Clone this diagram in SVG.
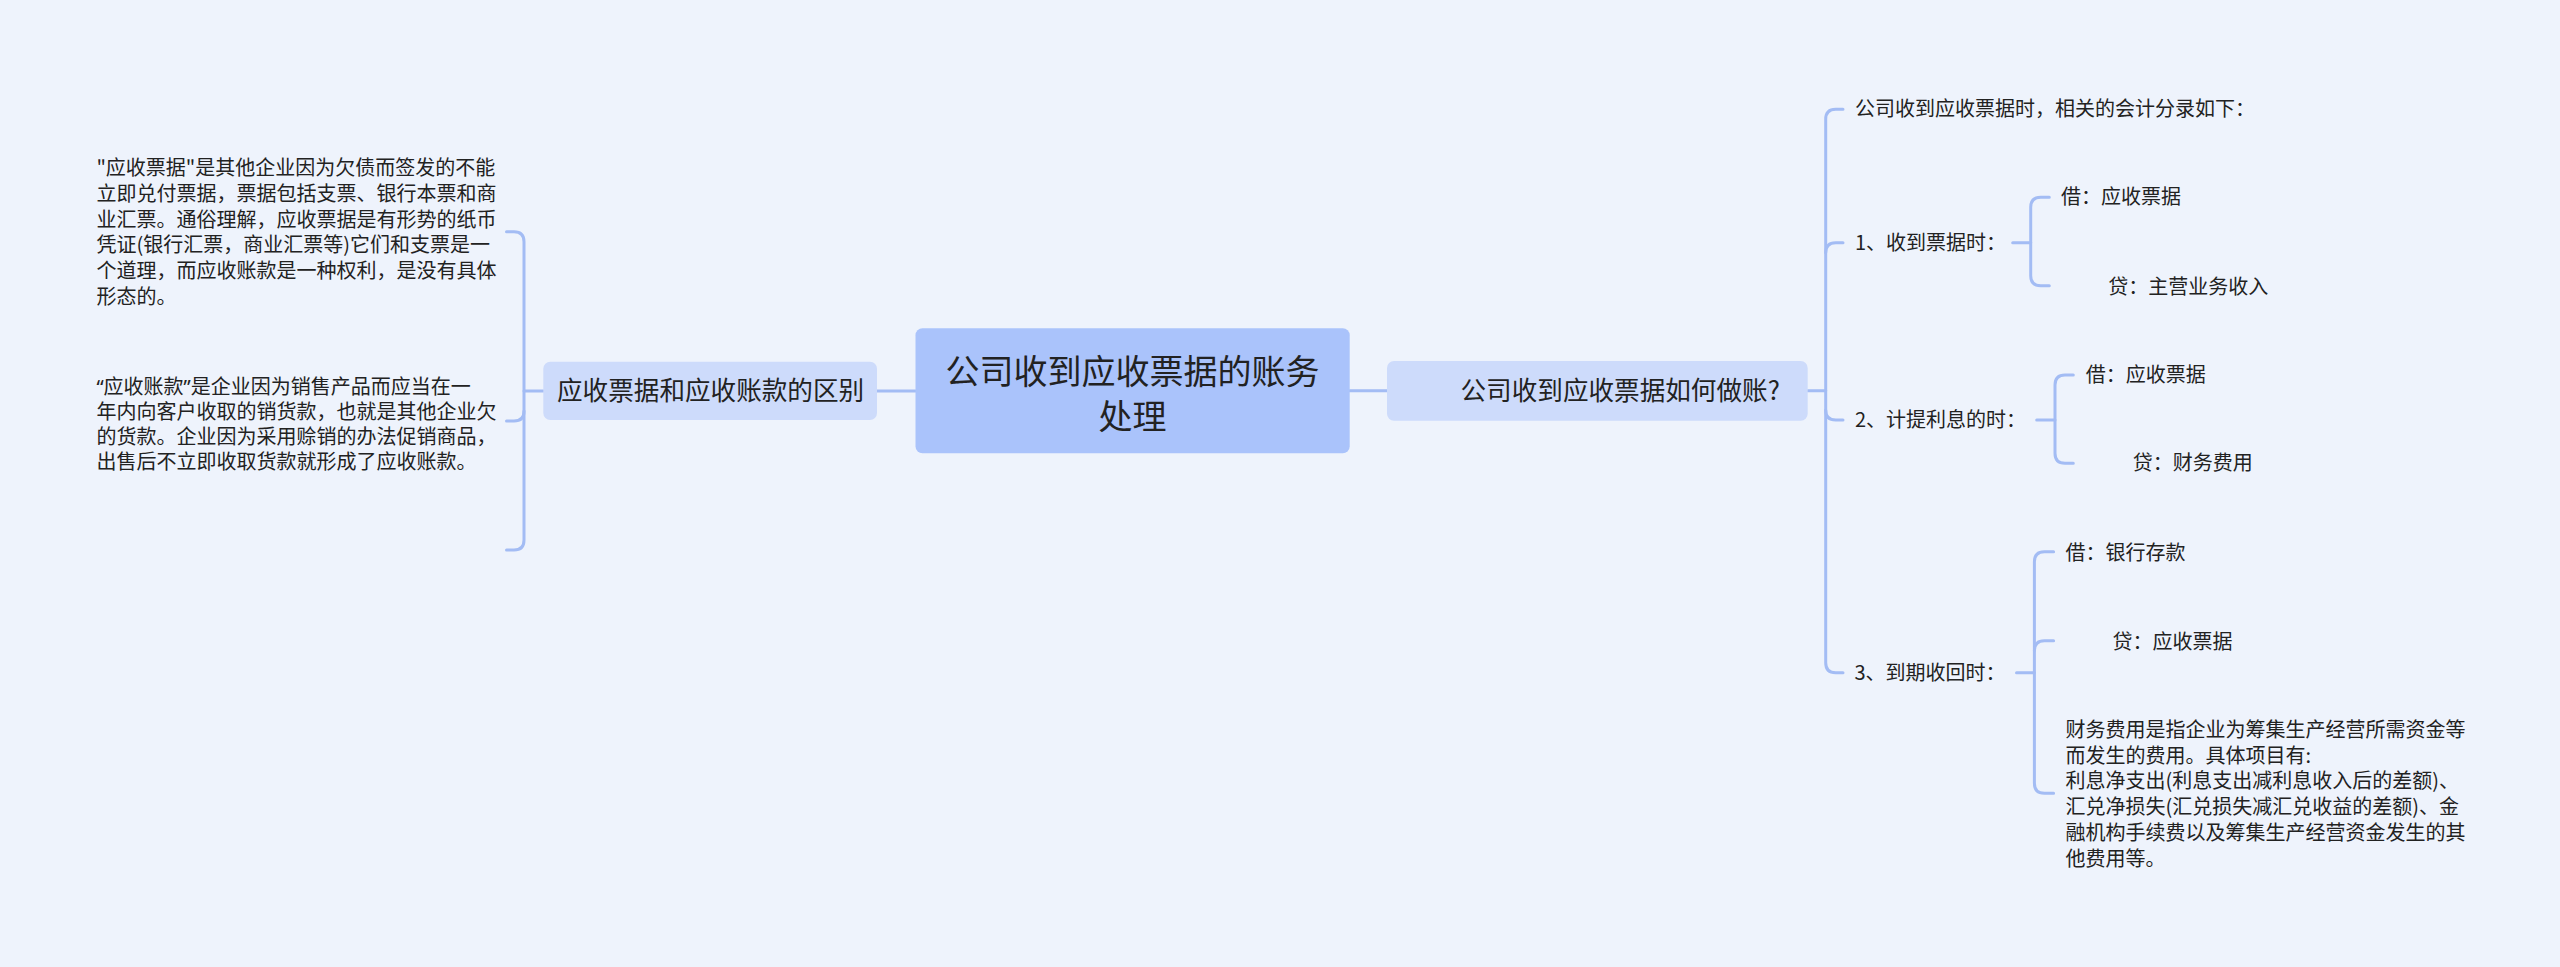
<svg xmlns="http://www.w3.org/2000/svg" width="2560" height="967" viewBox="0 0 2560 967">
<style>
.t{font-family:"Noto Sans CJK SC","Noto Sans",sans-serif;fill:#222;}
.q{font-family:"Noto Sans",sans-serif;}
.s{font-size:20px;}
.m{font-size:25.6px;}
.l{font-size:34px;}
.ln{fill:none;stroke:#a3bcf4;stroke-width:3;stroke-linecap:round;}
</style>
<rect width="2560" height="967" fill="#eef3fc"/>
<g id="connectors">
<path class="ln" d="M877 391 H915.5"/>
<path class="ln" d="M524 391 H543.3"/>
<path class="ln" d="M506.5 231.7 H514 Q524 231.7 524 241.7 V540 Q524 550 514 550 H506.5"/>
<path class="ln" d="M524 411 Q524 421 514 421 H506.5"/>
<path class="ln" d="M1349.7 390.7 H1387"/>
<path class="ln" d="M1807.7 390.7 H1825.7"/>
<path class="ln" d="M1843 109.3 H1835.7 Q1825.7 109.3 1825.7 119.3 V662.7 Q1825.7 672.7 1835.7 672.7 H1843"/>
<path class="ln" d="M1843 242.7 H1835.7 Q1825.7 242.7 1825.7 252.7"/>
<path class="ln" d="M1825.7 410 Q1825.7 420 1835.7 420 H1843"/>
<path class="ln" d="M2012.7 242.7 H2030.7"/>
<path class="ln" d="M2049.3 197.3 H2040.7 Q2030.7 197.3 2030.7 207.3 V275.7 Q2030.7 285.7 2040.7 285.7 H2049.3"/>
<path class="ln" d="M2036.7 420 H2055"/>
<path class="ln" d="M2073.3 375 H2065 Q2055 375 2055 385 V453.3 Q2055 463.3 2065 463.3 H2073.3"/>
<path class="ln" d="M2016.5 672.7 H2034.4"/>
<path class="ln" d="M2053.6 551.7 H2044.4 Q2034.4 551.7 2034.4 561.7 V783.3 Q2034.4 793.3 2044.4 793.3 H2053.6"/>
<path class="ln" d="M2053.6 640.7 H2044.4 Q2034.4 640.7 2034.4 650.7"/>
</g>
<g id="root">
<rect x="915.5" y="328.3" width="434.2" height="125" rx="7" fill="#aac3fb"/>
<text class="t l" x="1132.6" y="384" text-anchor="middle">公司收到应收票据的账务</text>
<text class="t l" x="1132.6" y="429" text-anchor="middle">处理</text>
</g>
<g id="left-node">
<rect x="543.3" y="361.7" width="333.7" height="58.3" rx="7" fill="#cddbfb"/>
<text class="t m" x="557" y="400.3">应收票据和应收账款的区别</text>
</g>
<g id="left-text-1">
<text class="t s" x="96.4" y="175.3">"应收票据"是其他企业因为欠债而签发的不能</text>
<text class="t s" x="96.4" y="201">立即兑付票据，票据包括支票、银行本票和商</text>
<text class="t s" x="96.4" y="226.6">业汇票。通俗理解，应收票据是有形势的纸币</text>
<text class="t s" x="96.4" y="252.3">凭证(银行汇票，商业汇票等)它们和支票是一</text>
<text class="t s" x="96.4" y="278">个道理，而应收账款是一种权利，是没有具体</text>
<text class="t s" x="96.4" y="303.6">形态的。</text>
</g>
<g id="left-text-2">
<text class="t s" x="96.4" y="393.7"><tspan class="q">“</tspan>应收账款<tspan class="q">”</tspan>是企业因为销售产品而应当在一</text>
<text class="t s" x="96.4" y="418.9">年内向客户收取的销货款，也就是其他企业欠</text>
<text class="t s" x="96.4" y="444.1">的货款。企业因为采用赊销的办法促销商品，</text>
<text class="t s" x="96.4" y="469.3">出售后不立即收取货款就形成了应收账款。</text>
</g>
<g id="right-node">
<rect x="1387" y="361" width="420.7" height="59.7" rx="7" fill="#cddbfb"/>
<text class="t m" x="1460.5" y="400">公司收到应收票据如何做账?</text>
</g>
<g id="intro">
<text class="t s" x="1855" y="116.3">公司收到应收票据时，相关的会计分录如下：</text>
</g>
<g id="step1">
<text class="t s" x="1855" y="249.7">1、收到票据时：</text>
</g>
<g id="step1-debit">
<text class="t s" x="2061" y="204.3">借：应收票据</text>
</g>
<g id="step1-credit">
<text class="t s" x="2108.3" y="293.7">贷：主营业务收入</text>
</g>
<g id="step2">
<text class="t s" x="1855" y="427">2、计提利息的时：</text>
</g>
<g id="step2-debit">
<text class="t s" x="2085.7" y="382">借：应收票据</text>
</g>
<g id="step2-credit">
<text class="t s" x="2132.7" y="470.3">贷：财务费用</text>
</g>
<g id="step3">
<text class="t s" x="1854.5" y="679.7">3、到期收回时：</text>
</g>
<g id="step3-debit">
<text class="t s" x="2065.6" y="559.7">借：银行存款</text>
</g>
<g id="step3-credit">
<text class="t s" x="2112.5" y="648.7">贷：应收票据</text>
</g>
<g id="step3-note">
<text class="t s" x="2065.6" y="737">财务费用是指企业为筹集生产经营所需资金等</text>
<text class="t s" x="2065.6" y="762.7">而发生的费用。具体项目有:</text>
<text class="t s" x="2065.6" y="788.4">利息净支出(利息支出减利息收入后的差额)、</text>
<text class="t s" x="2065.6" y="814.1">汇兑净损失(汇兑损失减汇兑收益的差额)、金</text>
<text class="t s" x="2065.6" y="839.8">融机构手续费以及筹集生产经营资金发生的其</text>
<text class="t s" x="2065.6" y="865.5">他费用等。</text>
</g>
</svg>
